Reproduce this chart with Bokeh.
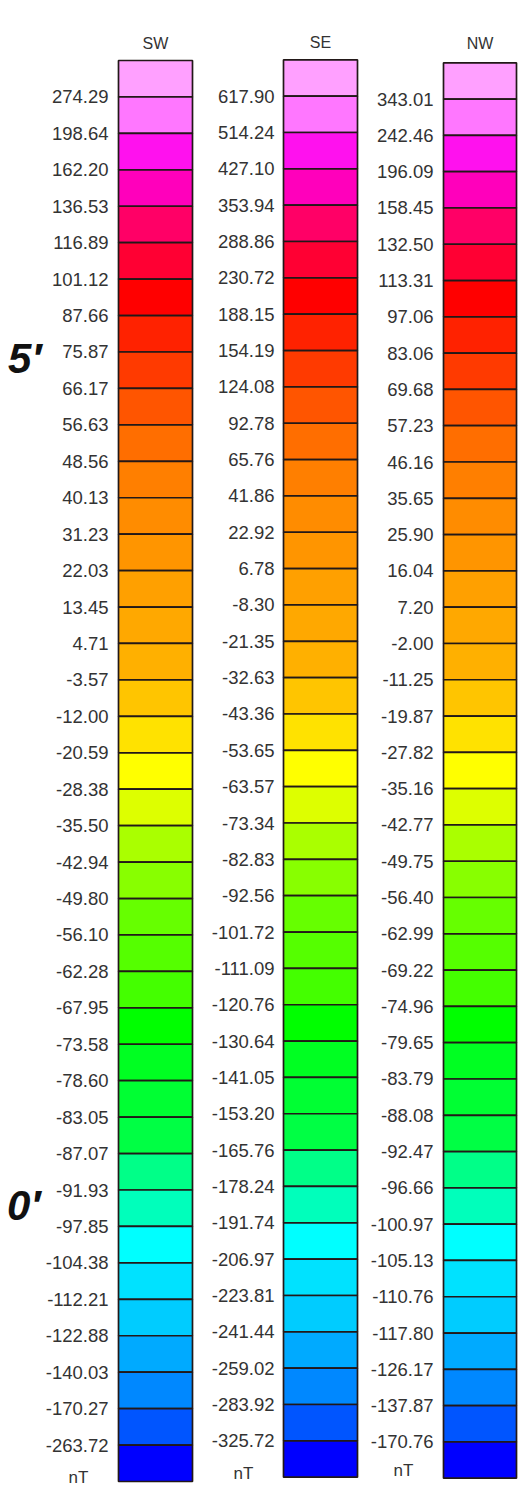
import numpy as np
from bokeh.plotting import figure
from bokeh.models import Range1d, ColumnDataSource
from bokeh.core.properties import value
from bokeh.embed import file_html
from bokeh.resources import INLINE

# ---- data ----
columns = ["SW", "SE", "NW"]
sw_labels = ["274.29", "198.64", "162.20", "136.53", "116.89", "101.12", "87.66", "75.87",
             "66.17", "56.63", "48.56", "40.13", "31.23", "22.03", "13.45", "4.71", "-3.57",
             "-12.00", "-20.59", "-28.38", "-35.50", "-42.94", "-49.80", "-56.10", "-62.28",
             "-67.95", "-73.58", "-78.60", "-83.05", "-87.07", "-91.93", "-97.85", "-104.38",
             "-112.21", "-122.88", "-140.03", "-170.27", "-263.72"]
se_labels = ["617.90", "514.24", "427.10", "353.94", "288.86", "230.72", "188.15", "154.19",
             "124.08", "92.78", "65.76", "41.86", "22.92", "6.78", "-8.30", "-21.35", "-32.63",
             "-43.36", "-53.65", "-63.57", "-73.34", "-82.83", "-92.56", "-101.72", "-111.09",
             "-120.76", "-130.64", "-141.05", "-153.20", "-165.76", "-178.24", "-191.74",
             "-206.97", "-223.81", "-241.44", "-259.02", "-283.92", "-325.72"]
nw_labels = ["343.01", "242.46", "196.09", "158.45", "132.50", "113.31", "97.06", "83.06",
             "69.68", "57.23", "46.16", "35.65", "25.90", "16.04", "7.20", "-2.00", "-11.25",
             "-19.87", "-27.82", "-35.16", "-42.77", "-49.75", "-56.40", "-62.99", "-69.22",
             "-74.96", "-79.65", "-83.79", "-88.08", "-92.47", "-96.66", "-100.97", "-105.13",
             "-110.76", "-117.80", "-126.17", "-137.87", "-170.76"]
unit = "nT"
cell_colors = ["#FFA0FF", "#FF77FF", "#FF11EE", "#FF00BB", "#FF0066", "#FF0033", "#FF0000",
               "#FF2200", "#FF3A00", "#FF5500", "#FF6E00", "#FF7F00", "#FF8C00", "#FF9500",
               "#FFA000", "#FFA800", "#FFB000", "#FFC500", "#FFE200", "#FFFF00", "#DDFF00",
               "#AAFF00", "#88FF00", "#66FF00", "#55FF00", "#44FF00", "#00FF00", "#00FF22",
               "#00FF33", "#00FF44", "#00FF88", "#00FFBB", "#00FFFF", "#00E2FF", "#00CCFF",
               "#00AAFF", "#0088FF", "#0055FF", "#0000FF"]
margin_marks = ["5\u2032", "0\u2032"]

# ---- layout (page pixel coordinates) ----
bar_left = [118, 283, 443]
bar_right = [192, 357, 516]
bar_top = [60.0, 59.3, 62.3]
bar_bottom = [1481.0, 1476.7, 1477.7]
label_right = [108, 274, 433]
title_y = [43, 42, 43]
unit_xy = [(78, 1477), (243, 1473), (403, 1470)]
mark_xy = [(41, 358), (40, 1205)]

all_labels = [sw_labels, se_labels, nw_labels]

W, H = 522, 1501
p = figure(width=W, height=H, x_range=Range1d(0, W), y_range=Range1d(H, 0),
           min_border=0, output_backend="svg", toolbar_location=None)
p.axis.visible = False
p.grid.visible = False
p.outline_line_color = None
p.background_fill_color = "white"

font = value("Liberation Sans")
for i, name in enumerate(columns):
    n = len(cell_colors)
    edges = np.linspace(bar_top[i], bar_bottom[i], n + 1)
    src = ColumnDataSource(dict(left=[bar_left[i]] * n, right=[bar_right[i]] * n,
                                top=edges[:-1], bottom=edges[1:], color=cell_colors))
    p.quad(left="left", right="right", top="top", bottom="bottom", fill_color="color",
           line_color="#221818", line_width=1.7, source=src)
    labs = all_labels[i]
    lsrc = ColumnDataSource(dict(x=[label_right[i]] * len(labs), y=edges[1:-1], t=labs))
    p.text(x="x", y="y", text="t", source=lsrc, text_align="right", text_baseline="middle",
           text_font=font, text_font_size="18.5px", text_color="#333333")
    p.text(x=[(bar_left[i] + bar_right[i]) / 2], y=[title_y[i]], text=[name],
           text_align="center", text_baseline="middle", text_font=font,
           text_font_size="16px", text_color="#333333")
    p.text(x=[unit_xy[i][0]], y=[unit_xy[i][1]], text=[unit], text_align="center",
           text_baseline="middle", text_font=font, text_font_size="17px",
           text_color="#333333")

p.text(x=[m[0] for m in mark_xy], y=[m[1] for m in mark_xy], text=margin_marks,
       text_align="right", text_baseline="middle", text_font=value("Liberation Sans"),
       text_font_size="42px", text_font_style="bold italic", text_color="#111111")

open("out.html", "w").write(file_html(p, INLINE))
